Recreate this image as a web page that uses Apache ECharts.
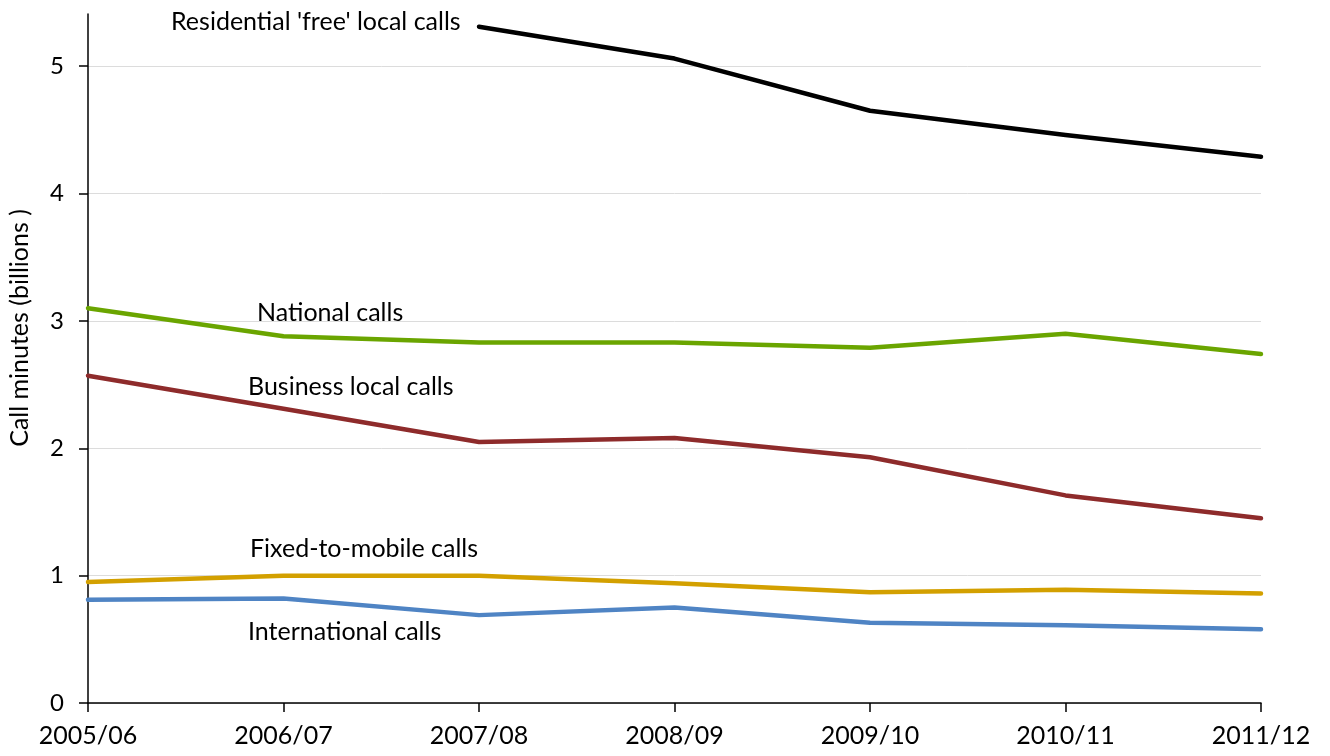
<!DOCTYPE html>
<html>
<head>
<meta charset="utf-8">
<script src="https://cdn.jsdelivr.net/npm/echarts@6/dist/echarts.min.js"></script>
<style>html,body{margin:0;padding:0;background:#fff}#c{width:1330px;height:756px}</style>
</head>
<body>
<div id="c"></div>
<script>
const categories = ['2005/06','2006/07','2007/08','2008/09','2009/10','2010/11','2011/12'];
const residential = [null, null, 5.31, 5.06, 4.65, 4.46, 4.29];
const national = [3.10, 2.88, 2.83, 2.83, 2.79, 2.90, 2.74];
const business = [2.57, 2.31, 2.05, 2.08, 1.93, 1.63, 1.45];
const fixedToMobile = [0.95, 1.00, 1.00, 0.94, 0.87, 0.89, 0.86];
const international = [0.81, 0.82, 0.69, 0.75, 0.63, 0.61, 0.58];
const yTicks = [0, 1, 2, 3, 4, 5];
const yAxisTitle = 'Call minutes (billions )';

const FONT = 'Lato';
const chart = echarts.init(document.getElementById('c'));
function line(name, data, color) {
  return { name, type: 'line', data, symbol: 'none', smooth: false, connectNulls: false,
    lineStyle: { color, width: 4.5, cap: 'round', join: 'round' }, itemStyle: { color }, z: 3 };
}
function txt(x, y, s) {
  return { type: 'text', x, y, style: { text: s, font: '25px ' + FONT, fill: '#000', verticalAlign: 'middle', align: 'left' } };
}
chart.setOption({
  animation: false,
  backgroundColor: '#fff',
  grid: { left: 88, right: 69, top: 14, bottom: 53, containLabel: false, outerBoundsMode: 'none' },
  xAxis: {
    type: 'category', data: categories, boundaryGap: false,
    axisLine: { lineStyle: { color: '#000', width: 1.5 } },
    axisTick: { show: true, inside: false, length: 9, alignWithLabel: true, lineStyle: { color: '#000', width: 1.5 } },
    axisLabel: { color: '#000', fontSize: 25, fontFamily: FONT, margin: 20 },
    splitLine: { show: false }
  },
  yAxis: {
    type: 'value', min: 0, max: 5.41,
    axisLine: { show: true, lineStyle: { color: '#000', width: 1.5 } },
    axisTick: { show: true, length: 9, customValues: yTicks, lineStyle: { color: '#000', width: 1.5 } },
    axisLabel: { color: '#000', fontSize: 24, fontFamily: FONT, margin: 24, customValues: yTicks },
    splitLine: { show: true, lineStyle: { color: '#dcdcdc', width: 1 } }
  },
  series: [
    line("Residential 'free' local calls", residential, '#000000'),
    line('National calls', national, '#6aa500'),
    line('Business local calls', business, '#8e2b2b'),
    line('Fixed-to-mobile calls', fixedToMobile, '#d3a000'),
    line('International calls', international, '#4f84c4')
  ],
  graphic: [
    { type: 'text', x: 20, y: 328, rotation: Math.PI / 2,
      style: { text: yAxisTitle, font: '25px ' + FONT, fill: '#000', align: 'center', verticalAlign: 'middle' } },
    txt(171, 22, "Residential 'free' local calls"),
    txt(257, 313, 'National calls'),
    txt(248, 387, 'Business local calls'),
    txt(250, 549, 'Fixed-to-mobile calls'),
    txt(248, 632, 'International calls')
  ]
});
</script>
</body>
</html>
